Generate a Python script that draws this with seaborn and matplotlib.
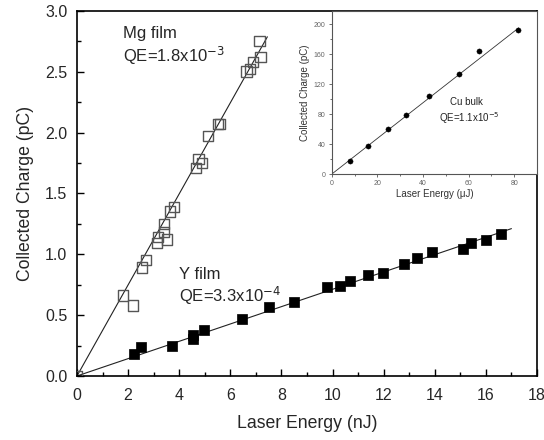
import numpy as np
import pandas as pd
import matplotlib
matplotlib.use("Agg")
import matplotlib.pyplot as plt
import seaborn as sns

# datos
mg_energy = [0.0, 1.8, 2.2, 2.55, 2.7, 3.14, 3.18, 3.41, 3.41, 3.53, 3.65, 3.8,
             4.67, 4.75, 4.9, 5.14, 5.53, 5.6, 6.63, 6.78, 6.9, 7.14, 7.18]
mg_charge = [0.0, 0.66, 0.58, 0.89, 0.95, 1.09, 1.14, 1.25, 1.18, 1.12, 1.35, 1.39,
             1.71, 1.78, 1.75, 1.97, 2.07, 2.07, 2.50, 2.52, 2.58, 2.75, 2.62]

y_energy = [2.24, 2.5, 3.72, 4.55, 4.55, 4.98, 6.47, 7.53, 8.5, 9.8, 10.3, 10.7,
            11.4, 11.96, 12.8, 13.3, 13.9, 15.1, 15.4, 16.0, 16.6]
y_charge = [0.18, 0.24, 0.25, 0.30, 0.34, 0.38, 0.47, 0.57, 0.61, 0.73, 0.74, 0.78,
            0.83, 0.85, 0.92, 0.97, 1.02, 1.04, 1.09, 1.12, 1.17]

cu_energy = [7.8, 15.8, 24.5, 32.5, 42.5, 56.0, 64.5, 81.5]
cu_charge = [18, 37, 60, 79, 104, 133, 164, 193]

# pendientes de los ajustes y rango de cada recta
mg_slope, mg_xmax = 0.374, 7.45
y_slope, y_xmax = 0.0712, 17.0
cu_slope, cu_xmax = 2.38, 82.0

sns.set_style("ticks")
plt.rcParams["font.family"] = ["Liberation Sans", "DejaVu Sans"]
plt.rcParams["mathtext.fontset"] = "custom"
plt.rcParams["mathtext.rm"] = "Liberation Sans"
plt.rcParams["mathtext.it"] = "Liberation Sans"
plt.rcParams["mathtext.default"] = "regular"

fig = plt.figure(figsize=(5.44, 4.40), dpi=100)
ax = fig.add_axes([0.1415, 0.1455, 0.8456, 0.830])

mg = pd.DataFrame({"E": mg_energy, "Q": mg_charge})
yf = pd.DataFrame({"E": y_energy, "Q": y_charge})

xm = np.array([0, mg_xmax])
xy = np.array([0, y_xmax])
ax.plot(xm, mg_slope * xm, color="#222222", lw=0.8, zorder=1)
ax.plot(xy, y_slope * xy, color="#222222", lw=0.8, zorder=1)

sns.scatterplot(data=mg, x="E", y="Q", marker="s", s=55, facecolor="none",
                edgecolor="#555555", linewidth=1.0, ax=ax, zorder=3)
sns.scatterplot(data=yf, x="E", y="Q", marker="s", s=55, color="black",
                edgecolor="black", linewidth=0.5, ax=ax, zorder=3)

ax.set_xlim(0, 18)
ax.set_ylim(0, 3.0)
ax.set_xticks(np.arange(0, 19, 2))
ax.set_xticks(np.arange(1, 18, 2), minor=True)
ax.set_yticks(np.arange(0, 3.01, 0.5))
ax.set_yticks(np.arange(0.25, 3.0, 0.5), minor=True)
ax.set_yticklabels(["0.0", "0.5", "1.0", "1.5", "2.0", "2.5", "3.0"])
ax.tick_params(which="both", direction="in", width=1.0, labelsize=11.5, color="black")
ax.tick_params(axis="x", which="both", pad=9)
ax.tick_params(axis="y", which="both", pad=7)
ax.tick_params(which="major", length=5)
ax.tick_params(which="minor", length=3)
for s in ax.spines.values():
    s.set_visible(True)
    s.set_linewidth(1.2)
    s.set_color("black")
ax.set_xlabel("Laser Energy (nJ)", fontsize=12.7, labelpad=8)
ax.set_ylabel("Collected Charge (pC)", fontsize=12.7, labelpad=8)

ax.text(1.8, 2.78, "Mg film", fontsize=12)
ax.text(1.8, 2.58, r"QE=1.8x10$^{\mathsf{-3}}$", fontsize=12)
ax.text(4.0, 0.80, "Y film", fontsize=12)
ax.text(4.0, 0.61, r"QE=3.3x10$^{\mathsf{-4}}$", fontsize=12)

# grafico interior Cu
ins = fig.add_axes([0.610, 0.6045, 0.377, 0.371])
cu = pd.DataFrame({"E": cu_energy, "Q": cu_charge})
xc = np.array([0, cu_xmax])
ins.plot(xc, cu_slope * xc, color="#333333", lw=0.6, zorder=1)
sns.scatterplot(data=cu, x="E", y="Q", color="black", s=14, edgecolor="black",
                ax=ins, zorder=3)
ins.set_xlim(0, 90)
ins.set_ylim(0, 218)
ins.set_xticks(np.arange(0, 81, 20))
ins.set_xticks(np.arange(10, 90, 20), minor=True)
ins.set_yticks(np.arange(0, 201, 40))
ins.set_yticks(np.arange(20, 218, 40), minor=True)
ins.tick_params(which="both", direction="out", labelsize=5, labelcolor="#666666",
                color="#555555", width=0.6, pad=2)
ins.tick_params(which="major", length=2.5)
ins.tick_params(which="minor", length=1.5)
for s in ins.spines.values():
    s.set_visible(True)
    s.set_color("#555555")
    s.set_linewidth(0.8)
ins.set_xlabel("Laser Energy (\u03bcJ)", fontsize=7, color="#333333", labelpad=1)
ins.set_ylabel("Collected Charge (pC)", fontsize=7, color="#333333", labelpad=3)
ins.text(52, 92, "Cu bulk", fontsize=7, color="#222222")
ins.text(47, 70, r"QE=1.1x10$^{\mathsf{-5}}$", fontsize=7, color="#222222")

fig.savefig("out.png", dpi=100)
